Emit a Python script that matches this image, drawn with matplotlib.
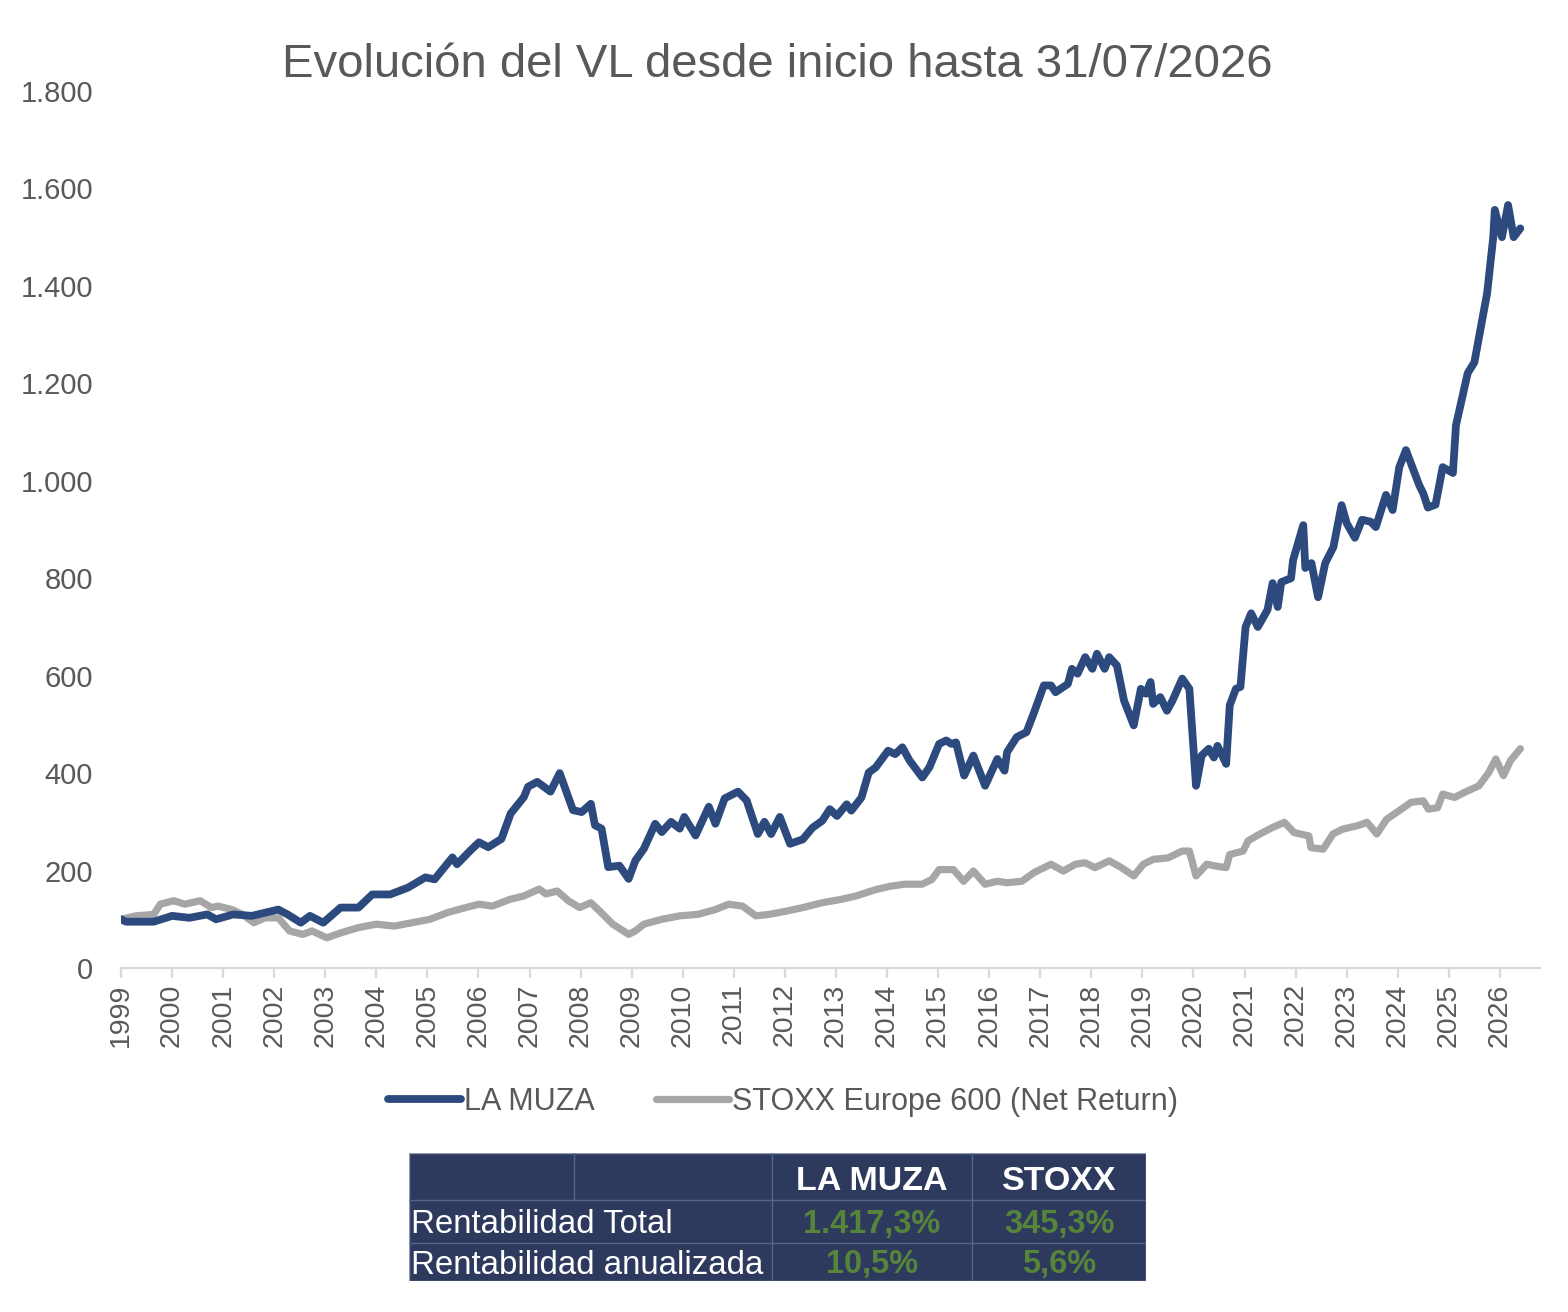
import numpy as np
import matplotlib
matplotlib.use('Agg')
import matplotlib.pyplot as plt
from matplotlib.patches import Rectangle
from matplotlib.ticker import FuncFormatter

plt.rcParams['font.family'] = ['Liberation Sans', 'DejaVu Sans']

# Data (base 100)
muza_years = [
    1999.0, 1999.1, 1999.64, 2000.0, 2000.34, 2000.69, 2000.86, 2001.2, 2001.56, 2002.08,
    2002.26, 2002.52, 2002.7, 2002.96, 2003.3, 2003.65, 2003.92, 2004.27, 2004.62, 2004.96,
    2005.14, 2005.49, 2005.58, 2005.84, 2006.01, 2006.19, 2006.45, 2006.63, 2006.89, 2006.97,
    2007.15, 2007.41, 2007.59, 2007.85, 2008.02, 2008.2, 2008.28, 2008.41, 2008.54, 2008.76,
    2008.94, 2009.07, 2009.24, 2009.46, 2009.59, 2009.77, 2009.94, 2010.03, 2010.25, 2010.51,
    2010.64, 2010.82, 2011.08, 2011.25, 2011.47, 2011.6, 2011.73, 2011.9, 2012.1, 2012.35,
    2012.54, 2012.73, 2012.88, 2013.02, 2013.21, 2013.3, 2013.5, 2013.64, 2013.78, 2014.02,
    2014.16, 2014.3, 2014.44, 2014.69, 2014.83, 2015.02, 2015.16, 2015.26, 2015.35, 2015.51,
    2015.69, 2015.92, 2016.16, 2016.3, 2016.35, 2016.54, 2016.73, 2016.88, 2017.07, 2017.21,
    2017.3, 2017.54, 2017.62, 2017.73, 2017.88, 2018.02, 2018.11, 2018.26, 2018.35, 2018.5,
    2018.64, 2018.83, 2018.97, 2019.07, 2019.16, 2019.21, 2019.35, 2019.48, 2019.59, 2019.78,
    2019.92, 2020.05, 2020.16, 2020.3, 2020.4, 2020.47, 2020.64, 2020.71, 2020.83, 2020.92,
    2021.02, 2021.13, 2021.26, 2021.45, 2021.55, 2021.65, 2021.72, 2021.91, 2021.95, 2022.15,
    2022.19, 2022.31, 2022.44, 2022.58, 2022.74, 2022.9, 2023.0, 2023.16, 2023.3, 2023.47,
    2023.57, 2023.77, 2023.9, 2024.03, 2024.16, 2024.42, 2024.5, 2024.59, 2024.74, 2024.88,
    2025.08, 2025.14, 2025.37, 2025.5, 2025.75, 2025.87, 2025.9, 2026.04, 2026.16, 2026.27, 2026.4,
]
muza_values = [
    100, 95, 95, 107, 103, 110, 100, 110, 107, 120,
    110, 93, 107, 93, 124, 124, 151, 151, 165, 186,
    182, 227, 213, 241, 258, 248, 265, 317, 351, 372,
    382, 362, 400, 324, 320, 337, 293, 286, 207, 210,
    183, 220, 245, 296, 279, 300, 286, 310, 272, 331,
    296, 348, 362, 344, 275, 300, 275, 310, 255, 264,
    288, 302, 326, 312, 336, 323, 350, 401, 412, 446,
    439, 453, 426, 391, 412, 460, 467, 460, 463, 395,
    436, 374, 429, 405, 443, 474, 484, 525, 580, 580,
    566, 583, 614, 604, 638, 614, 645, 614, 638, 621,
    549, 498, 573, 563, 587, 542, 556, 528, 549, 594,
    573, 374, 436, 450, 432, 456, 419, 539, 573, 577,
    700, 728, 700, 735, 790, 741, 792, 800, 837, 909,
    821, 831, 761, 831, 864, 950, 913, 883, 920, 916,
    905, 971, 940, 1028, 1063, 991, 974, 945, 951, 1028,
    1016, 1114, 1221, 1243, 1385, 1500, 1556, 1500, 1566, 1500, 1518,
]

stoxx_years = [
    1999.0, 1999.29, 1999.64, 1999.77, 2000.03, 2000.25, 2000.55, 2000.77, 2000.9, 2001.17,
    2001.38, 2001.6, 2001.82, 2002.08, 2002.3, 2002.56, 2002.74, 2003.03, 2003.3, 2003.65,
    2004.0, 2004.35, 2004.7, 2005.05, 2005.4, 2005.75, 2006.01, 2006.27, 2006.62, 2006.89,
    2007.19, 2007.32, 2007.54, 2007.76, 2007.98, 2008.2, 2008.37, 2008.63, 2008.94, 2009.07,
    2009.24, 2009.59, 2009.94, 2010.29, 2010.64, 2010.9, 2011.17, 2011.43, 2011.69, 2012.04,
    2012.35, 2012.73, 2013.11, 2013.4, 2013.78, 2014.07, 2014.35, 2014.69, 2014.88, 2015.02,
    2015.3, 2015.5, 2015.69, 2015.92, 2016.16, 2016.35, 2016.64, 2016.88, 2017.21, 2017.45,
    2017.69, 2017.88, 2018.07, 2018.35, 2018.59, 2018.83, 2019.02, 2019.21, 2019.5, 2019.78,
    2019.92, 2020.05, 2020.26, 2020.45, 2020.64, 2020.71, 2020.97, 2021.07, 2021.3, 2021.54,
    2021.78, 2021.97, 2022.26, 2022.3, 2022.54, 2022.73, 2022.92, 2023.21, 2023.4, 2023.59,
    2023.78, 2024.07, 2024.26, 2024.5, 2024.6, 2024.78, 2024.88, 2025.11, 2025.3, 2025.59,
    2025.78, 2025.92, 2026.07, 2026.21, 2026.4,
]
stoxx_values = [
    100, 107, 110, 131, 138, 131, 138, 124, 127, 120,
    110, 93, 103, 103, 76, 69, 76, 62, 72, 83,
    90, 86, 93, 100, 114, 124, 131, 127, 141, 148,
    162, 152, 158, 138, 124, 134, 117, 90, 69, 76,
    90, 100, 107, 110, 120, 131, 127, 107, 110, 117,
    124, 134, 141, 148, 161, 168, 172, 172, 182, 202,
    202, 178, 199, 172, 178, 175, 178, 196, 213, 199,
    213, 216, 206, 220, 206, 189, 213, 223, 226, 240,
    240, 189, 213, 209, 206, 233, 240, 261, 275, 288,
    299, 278, 271, 247, 244, 275, 285, 292, 299, 275,
    305, 326, 340, 343, 326, 329, 357, 350, 360, 374,
    401, 429, 395, 426, 450,
]

year_ticks = list(range(1999, 2027))
series_names = ['LA MUZA', 'STOXX Europe 600 (Net Return)']

table_header = ['', '', 'LA MUZA', 'STOXX']
table_rows = ['Rentabilidad Total', 'Rentabilidad anualizada']
table_muza = ['1.417,3%', '10,5%']
table_stoxx = ['345,3%', '5,6%']

navy = '#2C4A7E'
grey = '#A6A6A6'
text_grey = '#595959'
axis_grey = '#D9D9D9'
table_bg = '#2D3A5E'
table_line = '#55658A'
green = '#56843A'

W, H = 1568, 1312
fig = plt.figure(figsize=(W / 100, H / 100), dpi=100)
fig.patch.set_facecolor('white')

ax = fig.add_axes([121 / W, 1 - 968 / H, (1540 - 121) / W, (968 - 91) / H])
ax.plot(muza_years, muza_values, color=navy, lw=5.6, solid_joinstyle='round',
        solid_capstyle='round', label=series_names[0], zorder=3)
ax.plot(stoxx_years, stoxx_values, color=grey, lw=5.2, solid_joinstyle='round',
        solid_capstyle='round', label=series_names[1], zorder=2)

ax.set_xlim(1999, 1999 + (1540 - 121) / 51.07)
ax.set_ylim(0, 1800)
ax.set_yticks(np.arange(0, 1801, 200))
ax.yaxis.set_major_formatter(FuncFormatter(lambda v, p: f'{int(v):,}'.replace(',', '.')))
ax.set_xticks(year_ticks)
ax.set_xticklabels([str(y) for y in year_ticks], rotation=90, ha='center', va='top')

for s in ['left', 'right', 'top']:
    ax.spines[s].set_visible(False)
ax.spines['bottom'].set_color(axis_grey)
ax.spines['bottom'].set_linewidth(1.6)
ax.tick_params(axis='y', length=0, pad=20, labelsize=21, labelcolor=text_grey)
ax.tick_params(axis='x', length=7, width=1.6, color=axis_grey, pad=4,
               labelsize=20.5, labelcolor=text_grey)

fig.text(777 / W, 1 - 65 / H, 'Evolución del VL desde inicio hasta 31/07/2026',
         ha='center', va='center', fontsize=34, color=text_grey)

fig.legend(loc='center', bbox_to_anchor=(783 / W, 1 - 1102 / H), ncol=2, frameon=False,
           fontsize=22, handlelength=2.4, handletextpad=0.1, columnspacing=2.0,
           labelcolor=text_grey)

# Summary table
tx0, tx1, ty0, ty1 = 409, 1146, 1153, 1281
tax = fig.add_axes([tx0 / W, 1 - ty1 / H, (tx1 - tx0) / W, (ty1 - ty0) / H])
tax.set_xlim(tx0, tx1)
tax.set_ylim(ty1, ty0)
tax.axis('off')
tax.add_patch(Rectangle((tx0, ty0), tx1 - tx0, ty1 - ty0, facecolor=table_bg,
                        edgecolor='#8A96B4', lw=1))
col_x = [409, 574, 772, 972, 1146]
row_y = [1153, 1200, 1243, 1281]
for yy in row_y[1:-1]:
    tax.plot([tx0, tx1], [yy, yy], color=table_line, lw=1)
tax.plot([col_x[1], col_x[1]], [row_y[0], row_y[1]], color=table_line, lw=1)
for xx in col_x[2:4]:
    tax.plot([xx, xx], [ty0, ty1], color=table_line, lw=1)

tax.text((col_x[2] + col_x[3]) / 2, 1182, table_header[2], ha='center', va='center',
         color='white', fontsize=24.5, fontweight='bold')
tax.text((col_x[3] + col_x[4]) / 2, 1182, table_header[3], ha='center', va='center',
         color='white', fontsize=24.5, fontweight='bold')
for i, label in enumerate(table_rows):
    yc = (row_y[i + 1] + row_y[i + 2]) / 2 + 3
    tax.text(411, yc, label, ha='left', va='center', color='white', fontsize=23.8)
    tax.text((col_x[2] + col_x[3]) / 2, yc, table_muza[i], ha='center', va='center',
             color=green, fontsize=23.5, fontweight='bold')
    tax.text((col_x[3] + col_x[4]) / 2, yc, table_stoxx[i], ha='center', va='center',
             color=green, fontsize=23.5, fontweight='bold')

fig.savefig('out.png', dpi=100, facecolor='white')
